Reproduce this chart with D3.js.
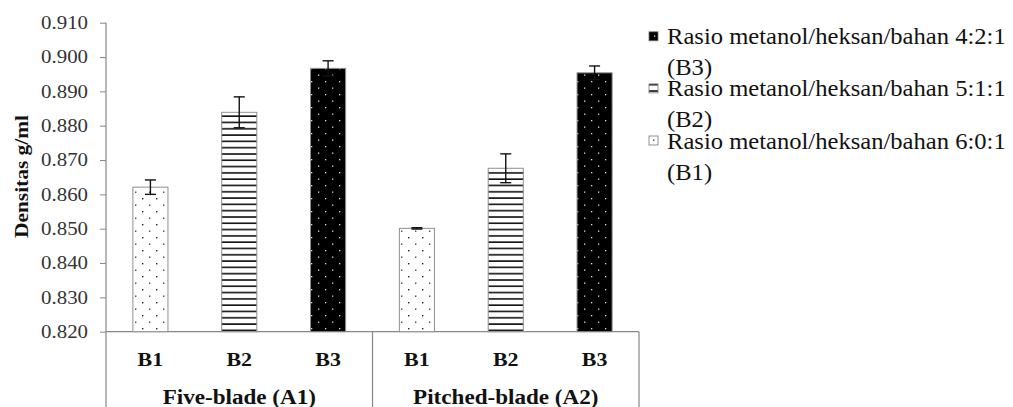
<!DOCTYPE html>
<html>
<head>
<meta charset="utf-8">
<script src="https://cdn.jsdelivr.net/npm/d3@7"></script>
<style>
  html, body { margin: 0; padding: 0; background: #fff; }
  svg { display: block; }
  svg text { font-family: "Liberation Serif", "Times New Roman", "DejaVu Serif", serif !important; }
</style>
</head>
<body>
<svg id="chart" width="1013" height="407"></svg>
<script>
// ---- data ----
const groups = ["Five-blade (A1)", "Pitched-blade (A2)"];
const treatments = ["B1", "B2", "B3"];
const valuesA1 = [0.8621, 0.8839, 0.8967];
const valuesA2 = [0.8501, 0.8676, 0.8954];
const errorsA1 = [0.0021, 0.0045, 0.0022];
const errorsA2 = [0.0002, 0.0042, 0.0020];
const yTicks = [0.820, 0.830, 0.840, 0.850, 0.860, 0.870, 0.880, 0.890, 0.900, 0.910];
const legendLabels = [
  ["Rasio metanol/heksan/bahan 4:2:1", "(B3)"],
  ["Rasio metanol/heksan/bahan 5:1:1", "(B2)"],
  ["Rasio metanol/heksan/bahan 6:0:1", "(B1)"]
];
const legendKeys = ["B3", "B2", "B1"];
const yTitle = "Densitas g/ml";

const rows = [];
groups.forEach((g, gi) => {
  const vals = gi === 0 ? valuesA1 : valuesA2;
  const errs = gi === 0 ? errorsA1 : errorsA2;
  treatments.forEach((t, ti) => rows.push({ group: g, key: t, value: vals[ti], err: errs[ti] }));
});

// ---- layout ----
const svg = d3.select("#chart");
const axisColor = "#878787";
const plotLeft = 106, plotRight = 639, yBottom = 331.7, yTop = 22.7;

const y = d3.scaleLinear().domain([0.82, 0.91]).range([yBottom, yTop]);
const x0 = d3.scaleBand().domain(groups).range([plotLeft, plotRight]).padding(0);
const x1 = d3.scaleBand().domain(treatments).range([0, x0.bandwidth()])
  .paddingInner(0.605).paddingOuter(0.3025);

// ---- patterns ----
const defs = svg.append("defs");
const p1 = defs.append("pattern").attr("id", "patB1").attr("patternUnits", "userSpaceOnUse")
  .attr("width", 14).attr("height", 13).attr("x", 0).attr("y", 0);
p1.append("rect").attr("width", 14).attr("height", 13).attr("fill", "#fff");
p1.append("rect").attr("x", 2).attr("y", 3).attr("width", 1.4).attr("height", 1.4).attr("fill", "#222");
p1.append("rect").attr("x", 9).attr("y", 9.5).attr("width", 1.4).attr("height", 1.4).attr("fill", "#444");
const p2 = defs.append("pattern").attr("id", "patB2").attr("patternUnits", "userSpaceOnUse")
  .attr("width", 10).attr("height", 6.3);
p2.append("rect").attr("width", 10).attr("height", 6.3).attr("fill", "#fff");
p2.append("rect").attr("x", 0).attr("y", 2).attr("width", 10).attr("height", 1.6).attr("fill", "#111");
const p3 = defs.append("pattern").attr("id", "patB3").attr("patternUnits", "userSpaceOnUse")
  .attr("width", 14).attr("height", 13);
p3.append("rect").attr("width", 14).attr("height", 13).attr("fill", "#000");
p3.append("rect").attr("x", 3).attr("y", 3).attr("width", 1.3).attr("height", 1.3).attr("fill", "#ddd");
p3.append("rect").attr("x", 10).attr("y", 9.5).attr("width", 1.3).attr("height", 1.3).attr("fill", "#ddd");
const fills = { B1: "url(#patB1)", B2: "url(#patB2)", B3: "url(#patB3)" };

const serif = "'Liberation Serif', 'Times New Roman', 'DejaVu Serif', serif";

// ---- y axis ----
const yAxis = d3.axisLeft(y).tickValues(yTicks).tickFormat(d3.format(".3f")).tickSize(6).tickPadding(12);
const gy = svg.append("g").attr("transform", `translate(${plotLeft},0)`).call(yAxis);
gy.attr("font-family", null);
gy.select(".domain").remove();
gy.selectAll(".tick line").attr("stroke", axisColor);
const sxTick = 1.16;
gy.selectAll(".tick text")
  .style("font-family", serif)
  .attr("font-size", 18).attr("fill", "#333")
  .attr("x", -18 / sxTick)
  .attr("transform", `scale(${sxTick},1)`);
svg.append("line").attr("x1", plotLeft).attr("x2", plotLeft).attr("y1", yTop).attr("y2", 407)
  .attr("stroke", axisColor).attr("stroke-width", 1.2);
svg.append("line").attr("x1", plotLeft).attr("x2", plotRight).attr("y1", yBottom).attr("y2", yBottom)
  .attr("stroke", axisColor).attr("stroke-width", 1.2);
groups.forEach(g => {
  const xr = x0(g) + x0.bandwidth();
  svg.append("line").attr("x1", xr).attr("x2", xr).attr("y1", yBottom).attr("y2", 407)
    .attr("stroke", axisColor).attr("stroke-width", 1.2);
});

// ---- bars ----
svg.append("g").selectAll("rect").data(rows).join("rect")
  .attr("x", d => x0(d.group) + x1(d.key))
  .attr("y", d => y(d.value))
  .attr("width", x1.bandwidth())
  .attr("height", d => y(0.82) - y(d.value))
  .attr("fill", d => fills[d.key])
  .attr("stroke", "#8f8f8f").attr("stroke-width", 1);

// ---- error bars ----
const errG = svg.append("g").attr("stroke", "#111").attr("stroke-width", 1.4);
rows.forEach(d => {
  const cx = x0(d.group) + x1(d.key) + x1.bandwidth() / 2;
  const yt = y(d.value + d.err), yb = y(d.value - d.err);
  errG.append("line").attr("x1", cx).attr("x2", cx).attr("y1", yt).attr("y2", yb);
  errG.append("line").attr("x1", cx - 5.5).attr("x2", cx + 5.5).attr("y1", yt).attr("y2", yt);
  errG.append("line").attr("x1", cx - 5.5).attr("x2", cx + 5.5).attr("y1", yb).attr("y2", yb);
});

// ---- x labels ----
const sxB = 1.22;
rows.forEach(d => {
  const cx = x0(d.group) + x1(d.key) + x1.bandwidth() / 2;
  svg.append("text")
    .attr("transform", `translate(${cx},365.7) scale(${sxB},1)`)
    .style("font-family", serif)
    .attr("text-anchor", "middle").attr("font-weight", "bold").attr("font-size", 18)
    .attr("fill", "#111").text(d.key);
});
const sxG = 1.1;
groups.forEach(g => {
  const cx = x0(g) + x0.bandwidth() / 2;
  svg.append("text")
    .attr("transform", `translate(${cx},403.5) scale(${sxG},1)`)
    .style("font-family", serif)
    .attr("text-anchor", "middle").attr("font-weight", "bold").attr("font-size", 21)
    .attr("fill", "#111").text(g);
});

// ---- y title ----
svg.append("text")
  .attr("transform", `translate(28,176.5) rotate(-90) scale(1.19,1)`)
  .style("font-family", serif)
  .attr("text-anchor", "middle").attr("font-weight", "bold").attr("font-size", 18)
  .attr("fill", "#111").text(yTitle);

// ---- legend ----
const legG = svg.append("g");
const sxL = 1.07;
legendKeys.forEach((k, i) => {
  const base = 44.3 + i * 52.1;
  legG.append("rect").attr("x", 649).attr("y", base - 12.5).attr("width", 9).attr("height", 9)
    .attr("fill", fills[k]).attr("stroke", "#777").attr("stroke-width", 0.8);
  legendLabels[i].forEach((line, li) => {
    legG.append("text")
      .attr("transform", `translate(667,${base + li * 31}) scale(${sxL},1)`)
      .style("font-family", serif)
      .attr("font-size", 23).attr("fill", "#111").text(line);
  });
});
</script>
</body>
</html>
